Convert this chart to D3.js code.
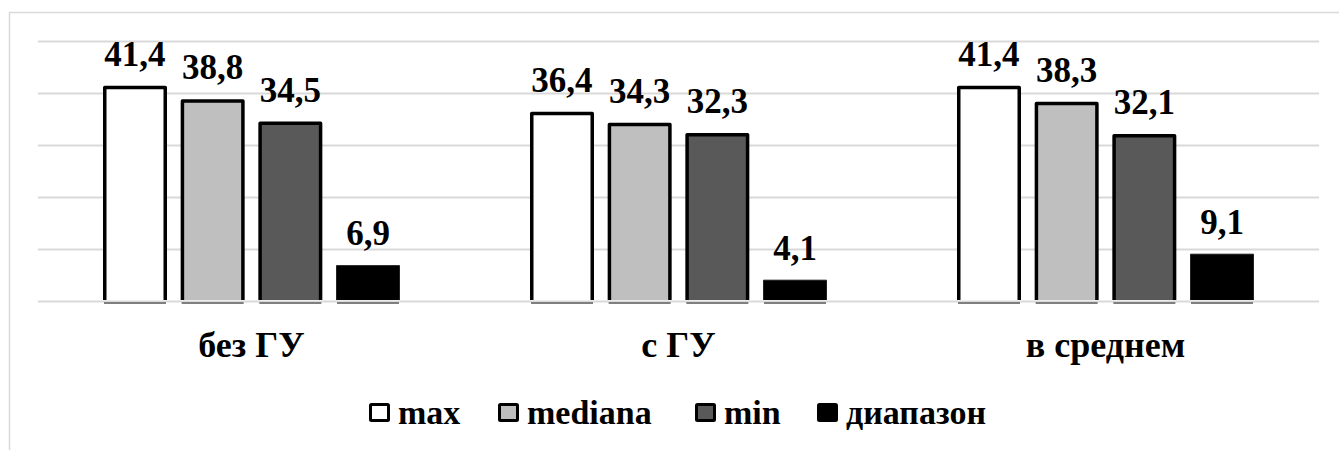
<!DOCTYPE html>
<html>
<head>
<meta charset="utf-8">
<script src="https://cdn.jsdelivr.net/npm/d3@7"></script>
</head>
<body style="margin:0">
<svg id="chart" width="1339" height="450"></svg>
<script>
// Groups along the x axis
const categories = ["без ГУ", "с ГУ", "в среднем"];
// Series names, in legend / bar order
const seriesNames = ["max", "mediana", "min", "диапазон"];
// Values per series, one per category
const maxValues = [41.4, 36.4, 41.4];
const medianaValues = [38.8, 34.3, 38.3];
const minValues = [34.5, 32.3, 32.1];
const rangeValues = [6.9, 4.1, 9.1];
// Horizontal gridline values
const gridTicks = [0, 10, 20, 30, 40, 50];

const seriesValues = [maxValues, medianaValues, minValues, rangeValues];
const fills = ["#ffffff", "#bfbfbf", "#595959", "#000000"];
const fmt = v => String(v).replace(".", ",");
const FONT = "'Liberation Serif', Tinos, 'Nimbus Roman', FreeSerif, serif";

const svg = d3.select("#chart");

// chart frame
svg.append("rect")
  .attr("x", 9.5).attr("y", 12.5)
  .attr("width", 1345).attr("height", 460)
  .attr("fill", "none").attr("stroke", "#d9d9d9").attr("stroke-width", 1.5);

const x0 = d3.scaleBand().domain(categories).range([38, 1319]).padding(0);
const groupW = 297;
const x1 = d3.scaleBand().domain(seriesNames)
  .range([(x0.bandwidth() - groupW) / 2, (x0.bandwidth() + groupW) / 2])
  .paddingInner(0.176).paddingOuter(0);
const y = d3.scaleLinear().domain([0, 50]).range([301, 41]);

// gridlines
svg.append("g").selectAll("line").data(gridTicks).join("line")
  .attr("x1", 38).attr("x2", 1319)
  .attr("y1", d => Math.round(y(d)) + 0.5).attr("y2", d => Math.round(y(d)) + 0.5)
  .attr("stroke", "#d9d9d9").attr("stroke-width", 2);

// bars
const rows = [];
categories.forEach((c, ci) => {
  seriesNames.forEach((s, si) => {
    rows.push({ c, s, si, v: seriesValues[si][ci] });
  });
});

rows.forEach(d => {
  const bx = x0(d.c) + x1(d.s);
  const bw = x1.bandwidth();
  const top = y(d.v);
  const base = y(0) - 1;
  const sw = d.si === 3 ? 1 : 3.5;
  svg.append("rect")
    .attr("x", bx + sw / 2).attr("y", top + sw / 2)
    .attr("width", bw - sw).attr("height", base - top - sw / 2)
    .attr("fill", fills[d.si]);
  // left, top and right edges
  svg.append("path")
    .attr("d", `M${bx + sw / 2},${base}V${top + sw / 2}H${bx + bw - sw / 2}V${base}`)
    .attr("fill", "none")
    .attr("stroke", d.si === 3 ? "#222" : "#000")
    .attr("stroke-width", sw)
    .attr("stroke-linejoin", "round");
  // bottom edge on the axis
  svg.append("line")
    .attr("x1", bx + 1).attr("x2", bx + bw - 1)
    .attr("y1", y(0) + 2).attr("y2", y(0) + 2)
    .attr("stroke", "#7f7f7f").attr("stroke-width", 2);
});

// value labels
rows.forEach(d => {
  svg.append("text")
    .attr("x", x0(d.c) + x1(d.s) + x1.bandwidth() / 2).attr("y", y(d.v) - 20)
    .attr("text-anchor", "middle")
    .style("font-family", FONT).style("font-weight", "bold")
    .style("font-size", "35px")
    .text(fmt(d.v));
});

// category labels
categories.forEach(c => {
  svg.append("text")
    .attr("x", x0(c) + x0.bandwidth() / 2).attr("y", 357)
    .attr("text-anchor", "middle")
    .style("font-family", FONT).style("font-weight", "bold")
    .style("font-size", "36px")
    .text(c);
});

// legend
const legendX = [369, 498, 695, 817];
seriesNames.forEach((s, i) => {
  svg.append("rect")
    .attr("x", legendX[i] + 1.5).attr("y", 404.5)
    .attr("width", 18).attr("height", 16)
    .attr("fill", fills[i])
    .attr("stroke", "#000").attr("stroke-width", 3)
    .attr("rx", 1);
  svg.append("text")
    .attr("x", legendX[i] + 29).attr("y", 424)
    .style("font-family", FONT).style("font-weight", "bold")
    .style("font-size", "34px")
    .text(s);
});
</script>
</body>
</html>
